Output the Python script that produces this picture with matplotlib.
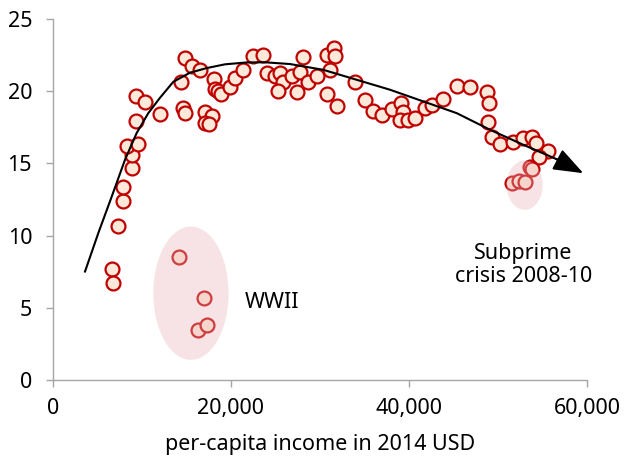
import numpy as np
import matplotlib as mpl
mpl.use('Agg')
from matplotlib import pyplot as plt
from matplotlib.patches import Ellipse
from matplotlib.ticker import FuncFormatter

plt.rcParams['font.family'] = ['Noto Sans', 'DejaVu Sans']

# per-capita income (2014 USD) and the y value of each year
income = [7830, 7900, 7340, 6660, 6780, 8930, 8840, 8280, 9580, 9290,
          9300, 10370, 11970, 14440, 14570, 14780, 14830, 15580, 16550, 17130,
          17830, 17110, 17580, 18090, 18200, 18570, 18880, 19890, 20450, 21380,
          22470, 23630, 24010, 25000, 25510, 25840, 25310, 26820, 27700, 28120,
          27420, 28690, 29660, 30790, 31570, 31690, 31180, 30750, 31880, 33930,
          35060, 35990, 36930, 38090, 39100, 39360, 38990, 39920, 40670, 41800,
          42550, 43790, 45360, 46890, 48730, 48990, 48910, 49290, 50220, 51720,
          52840, 53790, 54240, 55580, 54640, 53600, 53850, 51610, 52360, 53000,
          14160, 16970, 16330, 17340]
value = [12.40, 13.37, 10.65, 7.69, 6.70, 14.67, 15.59, 16.17, 16.32, 17.91,
         19.68, 19.23, 18.43, 20.65, 18.86, 18.52, 22.31, 21.77, 21.45, 18.56,
         18.26, 17.79, 17.74, 20.84, 20.18, 19.98, 19.80, 20.32, 20.93, 21.45,
         22.45, 22.52, 21.28, 21.02, 21.25, 20.67, 20.04, 21.02, 21.34, 22.40,
         19.91, 20.65, 21.07, 22.52, 23.01, 22.45, 21.48, 19.82, 18.95, 20.62,
         19.40, 18.61, 18.36, 18.76, 19.16, 18.59, 18.02, 18.02, 18.14, 18.83,
         19.01, 19.47, 20.33, 20.26, 19.91, 19.18, 17.86, 16.86, 16.35, 16.51,
         16.75, 16.86, 16.44, 15.87, 15.43, 14.78, 14.62, 13.63, 13.79, 13.70,
         8.52, 5.70, 3.44, 3.83]

# trend curve
trend_x = [3600, 5090, 6600, 8090, 9400, 10710, 12020, 13520, 15390, 17270,
           19330, 21760, 23820, 26630, 30370, 34120, 37870, 41610, 45360, 49100,
           52840, 56590, 59590]
trend_y = [7.51, 10.17, 12.70, 15.25, 17.10, 18.48, 19.54, 20.65, 21.28, 21.60,
           21.86, 21.99, 22.00, 21.88, 21.48, 20.79, 20.10, 19.29, 18.48, 17.33,
           16.29, 15.29, 14.32]

fs = 15.5

fig = plt.figure(figsize=(6.33, 4.63), dpi=100)
ax = fig.add_axes([0.0837, 0.1793, 0.8436, 0.7797])

ax.scatter(income, value, s=100, facecolor='#fde9d9', edgecolor='#c00000',
           linewidth=1.6, zorder=3)

# trend line with arrow head at the end
ax.plot(trend_x[:-1], trend_y[:-1], color='black', linewidth=1.5, zorder=4)
ax.annotate('', xy=(trend_x[-1], trend_y[-1]), xytext=(trend_x[-2], trend_y[-2]),
            arrowprops=dict(arrowstyle='-|>,head_length=0.8,head_width=0.3',
                            color='black', lw=1.5, mutation_scale=23,
                            shrinkA=0, shrinkB=0), zorder=4)

# highlighted periods
ax.add_patch(Ellipse((15500, 6.01), 8460, 9.24, facecolor='#e9b0b6',
                     edgecolor='none', alpha=0.35, zorder=5))
ax.add_patch(Ellipse((53000, 13.49), 4045, 3.42, facecolor='#e9b0b6',
                     edgecolor='none', alpha=0.35, zorder=5))
ax.text(21570, 5.35, 'WWII', fontsize=fs, ha='left', va='center')
ax.text(52870, 7.95, 'Subprime\ncrisis 2008-10', fontsize=fs, ha='center',
        va='center', linespacing=1.15)

ax.set_xlim(0, 60000)
ax.set_ylim(0, 25)
ax.set_xticks([0, 20000, 40000, 60000])
ax.set_yticks([0, 5, 10, 15, 20, 25])
ax.xaxis.set_major_formatter(FuncFormatter(lambda v, p: f'{int(v):,}'))
ax.set_xlabel('per-capita income in 2014 USD', fontsize=fs, labelpad=11)

for side in ['top', 'right']:
    ax.spines[side].set_visible(False)
for side in ['left', 'bottom']:
    ax.spines[side].set_color('#a6a6a6')
    ax.spines[side].set_linewidth(1.0)
ax.tick_params(axis='both', direction='out', length=5, width=1.0,
               color='#a6a6a6', labelsize=fs)
ax.tick_params(axis='x', pad=8)
ax.tick_params(axis='y', pad=10)

plt.savefig('out.png', dpi=100)
plt.close()
